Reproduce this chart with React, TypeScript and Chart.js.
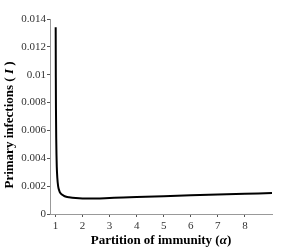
import React, { useEffect, useRef } from "react";
import { Chart, registerables } from "chart.js";

Chart.register(...registerables);

const alphaValues = [1.01, 1.015, 1.02, 1.03, 1.04, 1.05, 1.07, 1.1, 1.15, 1.2, 1.3, 1.4, 1.5, 1.75, 2, 2.5, 3, 3.5, 4, 5, 6, 7, 8, 9];
const infections = [0.0134, 0.0098, 0.0076, 0.0054, 0.0042, 0.0034, 0.0026, 0.002, 0.00163, 0.00147, 0.00132, 0.00124, 0.0012, 0.00114, 0.00112, 0.00112, 0.00115, 0.00118, 0.00122, 0.00128, 0.00134, 0.0014, 0.00145, 0.0015];
const xTicks = [1, 2, 3, 4, 5, 6, 7, 8];
const yTicks = [0, 0.002, 0.004, 0.006, 0.008, 0.01, 0.012, 0.014];
const xTitle: [string, boolean][] = [["Partition of immunity (", false], ["α", true], [")", false]];
const yTitle: [string, boolean][] = [["Primary infections ( ", false], ["I", true], [" )", false]];

function drawRich(ctx: CanvasRenderingContext2D, parts: [string, boolean][], cx: number, cy: number) {
  const fontFor = (it: boolean) => `${it ? "italic " : ""}bold 13px "Liberation Serif"`;
  let total = 0;
  const widths = parts.map(([t, it]) => {
    ctx.font = fontFor(it);
    const w = ctx.measureText(t).width;
    total += w;
    return w;
  });
  let x = cx - total / 2;
  ctx.textBaseline = "middle";
  ctx.textAlign = "left";
  ctx.fillStyle = "#000";
  parts.forEach(([t, it], i) => {
    ctx.font = fontFor(it);
    ctx.fillText(t, x, cy);
    x += widths[i];
  });
}

const titlePlugin = {
  id: "richTitles",
  afterDraw(chart: any) {
    const ctx: CanvasRenderingContext2D = chart.ctx;
    const area = chart.chartArea;
    ctx.save();
    drawRich(ctx, xTitle, (area.left + area.right) / 2, 241);
    ctx.translate(10, 125);
    ctx.rotate(-Math.PI / 2);
    drawRich(ctx, yTitle, 0, 0);
    ctx.restore();
  },
};

export default function App() {
  const ref = useRef<HTMLCanvasElement>(null);
  useEffect(() => {
    document.body.style.margin = "0";
    const ctx = ref.current!;
    const chart = new Chart(ctx, {
      type: "line",
      data: {
        datasets: [
          {
            data: alphaValues.map((a, i) => ({ x: a, y: infections[i] })),
            borderColor: "#000",
            borderWidth: 2,
            pointRadius: 0,
            cubicInterpolationMode: "monotone",
            fill: false,
          },
        ],
      },
      options: {
        animation: false,
        responsive: false,
        events: [],
        layout: { padding: { top: 19, right: 28, left: 0, bottom: 0 } },
        plugins: { legend: { display: false }, tooltip: { enabled: false } },
        scales: {
          x: {
            type: "linear",
            min: 0.8,
            max: 9,
            afterBuildTicks: (s: any) => {
              s.ticks = xTicks.map((v) => ({ value: v }));
            },
            afterFit: (s: any) => {
              s.height = 36;
            },
            border: { color: "#999", width: 1 },
            grid: { drawOnChartArea: false, drawTicks: true, tickLength: 3, color: "#555" },
            ticks: {
              color: "#333",
              font: { family: "Liberation Serif", size: 11 },
              padding: 3,
              maxRotation: 0,
              callback: (v: any) => String(v),
            },
          },
          y: {
            type: "linear",
            min: 0,
            max: 0.014,
            afterBuildTicks: (s: any) => {
              s.ticks = yTicks.map((v) => ({ value: v }));
            },
            afterFit: (s: any) => {
              s.width = 50;
            },
            border: { color: "#999", width: 1 },
            grid: { drawOnChartArea: false, drawTicks: true, tickLength: 3, color: "#555" },
            ticks: {
              color: "#333",
              font: { family: "Liberation Serif", size: 11 },
              padding: 1,
              callback: (v: any) => String(Number(Number(v).toFixed(4))),
            },
          },
        },
      },
      plugins: [titlePlugin],
    } as any);
    return () => chart.destroy();
  }, []);
  return <canvas ref={ref} width={300} height={250} style={{ display: "block" }} />;
}
